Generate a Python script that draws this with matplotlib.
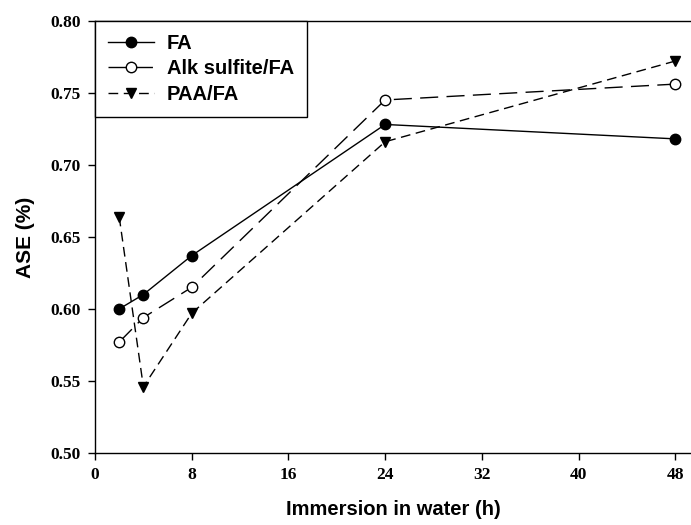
import matplotlib
matplotlib.use("Agg")
import matplotlib.pyplot as plt

# immersion time (h) and ASE values
hours = [2, 4, 8, 24, 48]
ase_fa = [0.600, 0.610, 0.637, 0.728, 0.718]
ase_alk = [0.577, 0.594, 0.615, 0.745, 0.756]
ase_paa = [0.664, 0.546, 0.597, 0.716, 0.772]

x_ticks = [0, 8, 16, 24, 32, 40, 48]
y_ticks = [0.50, 0.55, 0.60, 0.65, 0.70, 0.75, 0.80]

fig = plt.figure(figsize=(6.91, 5.25), dpi=100)
ax = fig.add_axes([0.1375, 0.137, 0.8625, 0.8236])

ax.plot(hours, ase_fa, color='black', lw=1.0, marker='o', ms=7.5,
        mfc='black', mec='black', label='FA')
ax.plot(hours, ase_alk, color='black', lw=1.0, dashes=(13, 6), marker='o', ms=7.5,
        mfc='white', mec='black', label='Alk sulfite/FA')
ax.plot(hours, ase_paa, color='black', lw=1.0, dashes=(7, 4), marker='v', ms=7.5,
        mfc='black', mec='black', label='PAA/FA')

ax.set_xlim(0, 49.3)
ax.set_ylim(0.50, 0.80)
ax.set_xticks(x_ticks)
ax.set_yticks(y_ticks)
ax.set_xticklabels([str(t) for t in x_ticks], fontfamily='Liberation Serif',
                   fontweight='bold', fontsize=12.5)
ax.set_yticklabels(['%.2f' % t for t in y_ticks], fontfamily='Liberation Serif',
                   fontweight='bold', fontsize=12.5)
ax.tick_params(direction='out', length=5, width=1, pad=5, color='black')

ax.spines['right'].set_visible(False)
for s in ['left', 'bottom', 'top']:
    ax.spines[s].set_linewidth(1.0)

ax.set_xlabel('Immersion in water (h)', fontfamily='Liberation Sans',
              fontweight='bold', fontsize=14.5, labelpad=12)
ax.set_ylabel('ASE (%)', fontfamily='Liberation Sans',
              fontweight='bold', fontsize=15, labelpad=11.5)

leg = ax.legend(loc='upper left', bbox_to_anchor=(0, 1), borderaxespad=0,
                prop={'family': 'Liberation Sans', 'weight': 'bold', 'size': 14.5},
                handlelength=2.3, handletextpad=0.6, labelspacing=0.32,
                borderpad=0.65, fancybox=False, framealpha=1, edgecolor='black')
leg.get_frame().set_linewidth(1.0)

fig.savefig('out.png', dpi=100)
